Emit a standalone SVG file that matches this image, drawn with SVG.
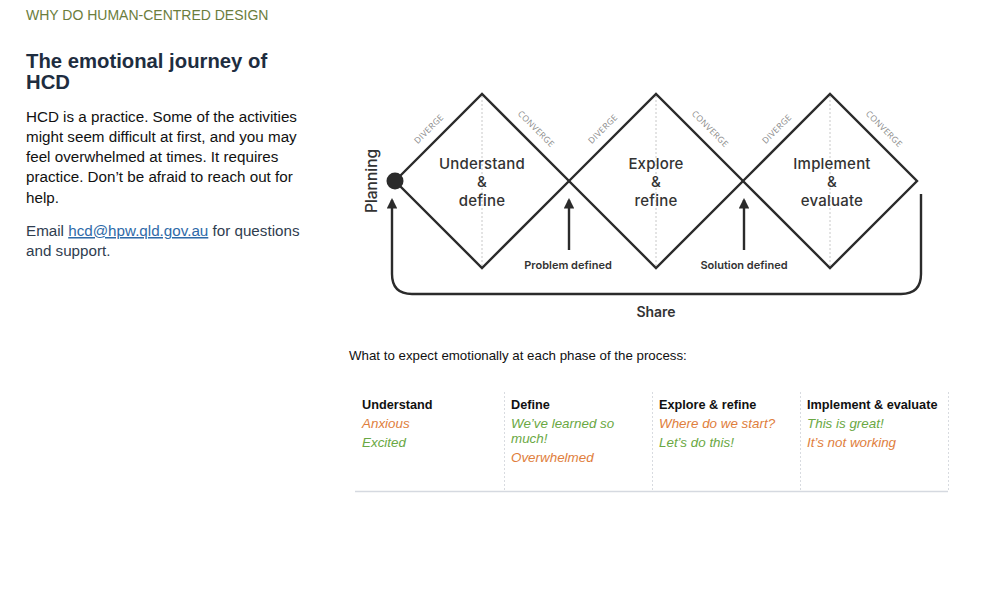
<svg xmlns="http://www.w3.org/2000/svg" width="1000" height="593" viewBox="0 0 1000 593">
<defs>
<style>
.sans{font-family:"Liberation Sans",Arial,sans-serif}
.dg{font-family:Inter,"Open Sans",sans-serif;fill:#333}
.dl{font-size:15px;font-weight:500;text-anchor:middle;letter-spacing:0.2px}
.tiny{font-family:"Open Sans","Noto Sans",sans-serif;font-size:8.5px;fill:#8a8a8a;text-anchor:middle;letter-spacing:0.4px}
.edge{fill:none;stroke:#2b2b2b;stroke-width:2.4}
.dot{stroke:#c8c8c8;stroke-width:1;stroke-dasharray:2 2}
.hd{font-size:12.7px;font-weight:bold;fill:#111}
.it{font-size:13.4px;font-style:italic}
.or{fill:#e07e3c}
.gr{fill:#6aa843}
.col{stroke:#d8dbe0;stroke-width:1;stroke-dasharray:2 2}
</style>
<marker id="ah" viewBox="0 0 10 10" refX="8" refY="5" markerWidth="5" markerHeight="4.4" orient="auto-start-reverse" markerUnits="strokeWidth">
<path d="M0,0 L10,5 L0,10 Z" fill="#2b2b2b"/>
</marker>
</defs>
<rect width="1000" height="593" fill="#fff"/>

<g id="left-text" class="sans">
<text x="26" y="20" font-size="14" fill="#6b7d3c">WHY DO HUMAN-CENTRED DESIGN</text>
<text x="26" y="68" font-size="20.3" font-weight="bold" fill="#1e2d40">The emotional journey of</text>
<text x="26" y="89" font-size="20.3" font-weight="bold" fill="#1e2d40">HCD</text>
<g font-size="15.2" fill="#111">
<text x="26" y="122">HCD is a practice. Some of the activities</text>
<text x="26" y="142">might seem difficult at first, and you may</text>
<text x="26" y="162">feel overwhelmed at times. It requires</text>
<text x="26" y="182">practice. Don’t be afraid to reach out for</text>
<text x="26" y="203">help.</text>
</g>
<g font-size="15.2" fill="#2f3d4f">
<text x="26" y="236">Email <tspan fill="#2e6aa8" text-decoration="underline">hcd@hpw.qld.gov.au</tspan> for questions</text>
<text x="26" y="256">and support.</text>
</g>
</g>

<g id="connectors">
<path class="edge" d="M921,194 V274 Q921,294 901,294 H412 Q392,294 392,274 V200" marker-end="url(#ah)"/>
<line class="edge" x1="569" y1="250" x2="569" y2="200" marker-end="url(#ah)"/>
<line class="edge" x1="744" y1="250" x2="744" y2="200" marker-end="url(#ah)"/>
</g>

<g id="diamond-1">
<line class="dot" x1="482" y1="96" x2="482" y2="266"/>
<path class="edge" d="M395,181 L482,94 L569,181 L482,268 Z"/>
<text class="dg dl" x="482" y="168.5">Understand</text>
<text class="dg dl" x="482" y="187">&amp;</text>
<text class="dg dl" x="482" y="205.5">define</text>
<text class="tiny" transform="translate(431,131) rotate(-45)">DIVERGE</text>
<text class="tiny" transform="translate(534,131) rotate(45)">CONVERGE</text>
</g>
<g id="diamond-2">
<line class="dot" x1="656" y1="96" x2="656" y2="266"/>
<path class="edge" d="M569,181 L656,94 L743,181 L656,268 Z"/>
<text class="dg dl" x="656" y="168.5">Explore</text>
<text class="dg dl" x="656" y="187">&amp;</text>
<text class="dg dl" x="656" y="205.5">refine</text>
<text class="tiny" transform="translate(605,131) rotate(-45)">DIVERGE</text>
<text class="tiny" transform="translate(708,131) rotate(45)">CONVERGE</text>
</g>
<g id="diamond-3">
<line class="dot" x1="830" y1="96" x2="830" y2="266"/>
<path class="edge" d="M743,181 L830,94 L917,181 L830,268 Z"/>
<text class="dg dl" x="832" y="168.5">Implement</text>
<text class="dg dl" x="832" y="187">&amp;</text>
<text class="dg dl" x="832" y="205.5">evaluate</text>
<text class="tiny" transform="translate(779,131) rotate(-45)">DIVERGE</text>
<text class="tiny" transform="translate(882,131) rotate(45)">CONVERGE</text>
</g>
<g id="planning">
<circle cx="395" cy="181" r="8.5" fill="#2b2b2b"/>
<text class="dg" font-size="15.5" font-weight="500" text-anchor="middle" transform="translate(377,181) rotate(-90)">Planning</text>
</g>
<g id="labels">
<text class="dg" x="568" y="269" font-size="11" font-weight="600" text-anchor="middle">Problem defined</text>
<text class="dg" x="744" y="269" font-size="11" font-weight="600" text-anchor="middle">Solution defined</text>
<text class="dg" x="656" y="317" font-size="14" font-weight="600" text-anchor="middle">Share</text>
</g>

<g id="table" class="sans">
<text x="349" y="360" font-size="13.3" fill="#111">What to expect emotionally at each phase of the process:</text>
<line class="col" x1="504.5" y1="392" x2="504.5" y2="491"/>
<line class="col" x1="652.5" y1="392" x2="652.5" y2="491"/>
<line class="col" x1="800.5" y1="392" x2="800.5" y2="491"/>
<line class="col" x1="948.5" y1="392" x2="948.5" y2="491"/>
<line x1="355" y1="491.5" x2="948" y2="491.5" stroke="#d5d9e0" stroke-width="1.5"/>
<text class="hd" x="362" y="409">Understand</text>
<text class="it or" x="362" y="428">Anxious</text>
<text class="it gr" x="362" y="447">Excited</text>
<text class="hd" x="511" y="409">Define</text>
<text class="it gr" x="511" y="428">We’ve learned so</text>
<text class="it gr" x="511" y="443">much!</text>
<text class="it or" x="511" y="462">Overwhelmed</text>
<text class="hd" x="659" y="409">Explore &amp; refine</text>
<text class="it or" x="659" y="428">Where do we start?</text>
<text class="it gr" x="659" y="447">Let’s do this!</text>
<text class="hd" x="807" y="409">Implement &amp; evaluate</text>
<text class="it gr" x="807" y="428">This is great!</text>
<text class="it or" x="807" y="447">It’s not working</text>
</g>
</svg>
